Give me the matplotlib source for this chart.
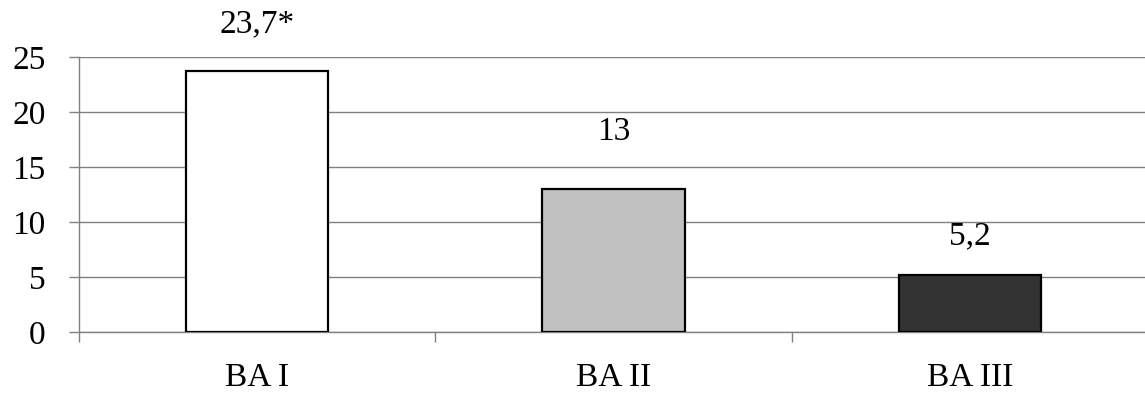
import matplotlib
matplotlib.use("Agg")
import matplotlib.pyplot as plt
import numpy as np

categories = ["BA I", "BA II", "BA III"]
values = [23.7, 13, 5.2]
value_labels = ["23,7*", "13", "5,2"]
label_y = [28.0, 18.2, 8.7]
bar_colors = ["#FFFFFF", "#C0C0C0", "#333333"]
yticks = [0, 5, 10, 15, 20, 25]

plt.rcParams['font.family'] = ['Liberation Serif', 'DejaVu Serif']

fig = plt.figure(figsize=(11.45, 3.96), dpi=100)
ax = fig.add_axes([79/1145, 64/396, 1069/1145, 275/396])

x = np.arange(len(categories))
ax.bar(x, values, width=0.4, color=bar_colors, edgecolor='black', linewidth=1.6, zorder=3)

for xi, lab, ly in zip(x, value_labels, label_y):
    ax.text(xi, ly, lab, ha='center', va='center', fontsize=24, color='black')

ax.set_xlim(-0.5, 2.5)
ax.set_ylim(0, 25)
ax.set_yticks(yticks)
ax.set_yticklabels([str(t) for t in yticks], fontsize=24)
ax.yaxis.grid(True, color='#808080', linewidth=1.0, zorder=0)
ax.set_axisbelow(True)

ax.set_xticks([-0.5, 0.5, 1.5, 2.5])
ax.set_xticklabels([])
ax.set_xticks(x, minor=True)
ax.set_xticklabels(categories, minor=True, fontsize=24)
ax.tick_params(axis='x', which='minor', length=0, pad=22)
ax.tick_params(axis='x', which='major', length=7, width=1.0, color='#808080', direction='out')
ax.tick_params(axis='y', length=7, width=1.0, color='#808080', pad=17)

for s in ['top', 'right']:
    ax.spines[s].set_visible(False)
for s in ['left', 'bottom']:
    ax.spines[s].set_color('#808080')
    ax.spines[s].set_linewidth(1.0)

fig.savefig("out.png", dpi=100)
